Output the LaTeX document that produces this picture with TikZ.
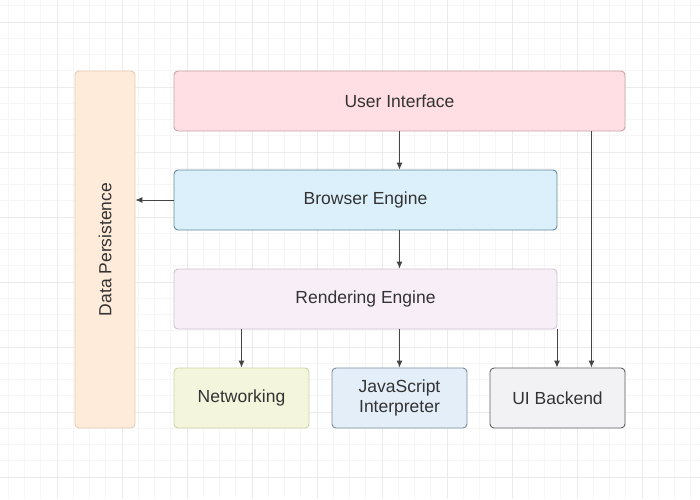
\documentclass[tikz,border=0pt]{standalone}
\usepackage{fontspec}
\setmainfont{Liberation Sans}
\usepackage{xcolor}
\usetikzlibrary{arrows.meta,positioning}

\definecolor{gridminor}{HTML}{F6F6F6}
\definecolor{gridmajor}{HTML}{EBEBEB}
\definecolor{txtgray}{HTML}{333333}
\definecolor{arrgray}{HTML}{444444}
\definecolor{dpfill}{HTML}{FEEBD9}\definecolor{dpline}{HTML}{E8CDB3}
\definecolor{uifill}{HTML}{FFDFE3}\definecolor{uiline}{HTML}{C9A2A8}
\definecolor{befill}{HTML}{DCF0FB}\definecolor{beline}{HTML}{62889A}
\definecolor{refill}{HTML}{F7EEF7}\definecolor{reline}{HTML}{CEC3CE}
\definecolor{nwfill}{HTML}{F3F5DC}\definecolor{nwline}{HTML}{CDD4AB}
\definecolor{jsfill}{HTML}{E3EEF9}\definecolor{jsline}{HTML}{7D8C9C}
\definecolor{bkfill}{HTML}{F2F2F4}\definecolor{bkline}{HTML}{5F5F63}

\tikzset{
  layer/.style={draw,rectangle,rounded corners=4pt,line width=0.9pt,
    text=txtgray,font=\fontsize{17.5}{20}\selectfont,align=center,
    inner sep=0pt,minimum height=60pt},
  conn/.style={draw=arrgray,line width=0.9pt,-{Latex[length=7pt,width=6pt]}}
}

\begin{document}
\begin{tikzpicture}[x=1pt,y=-1pt]
  \useasboundingbox (0,0) rectangle (700,499);
  % background grid
  \foreach \i in {0,...,44} {
    \draw[gridminor,line width=0.6pt] ({-8+16.25*\i},0) -- ({-8+16.25*\i},499);
  }
  \foreach \i in {0,...,32} {
    \draw[gridminor,line width=0.6pt] (0,{-43+16.25*\i}) -- (700,{-43+16.25*\i});
  }
  \foreach \i in {0,...,11} {
    \draw[gridmajor,line width=0.8pt] ({-8+65*\i},0) -- ({-8+65*\i},499);
  }
  \foreach \i in {0,...,8} {
    \draw[gridmajor,line width=0.8pt] (0,{-43+65*\i}) -- (700,{-43+65*\i});
  }

  % layers
  \node[layer,fill=dpfill,draw=dpline,rotate=90,minimum width=357pt]
    (persist) at (105,249.5) {Data Persistence};
  \node[layer,fill=uifill,draw=uiline,minimum width=451pt]
    (ui) at (399.5,101) {User Interface};
  \node[layer,fill=befill,draw=beline,minimum width=383pt]
    (browser) at (365.5,200) {Browser Engine};
  \node[layer,fill=refill,draw=reline,minimum width=383pt]
    (render) at (365.5,299) {Rendering Engine};
  \node[layer,fill=nwfill,draw=nwline,minimum width=135pt]
    (net) at (241.5,398) {Networking};
  \node[layer,fill=jsfill,draw=jsline,minimum width=135pt]
    (js) at (399.5,398) {JavaScript\\Interpreter};
  \node[layer,fill=bkfill,draw=bkline,minimum width=135pt]
    (backend) at (557.5,398) {UI Backend};

  % connectors
  \draw[conn] (ui.south) -- (ui.south |- browser.north);
  \draw[conn] (browser.west) -- (browser.west -| persist.south);
  \draw[conn] (browser.south -| ui.south) -- (render.north -| ui.south);
  \draw[conn] (render.south -| net.north) -- (net.north);
  \draw[conn] (render.south -| js.north) -- (js.north);
  \draw[conn] ([xshift=-0.5pt]render.south east) -- ([xshift=-0.5pt]render.south east |- backend.north);
  \draw[conn] ([xshift=-34pt]ui.south east) -- ([xshift=-34pt]ui.south east |- backend.north);
\end{tikzpicture}
\end{document}
